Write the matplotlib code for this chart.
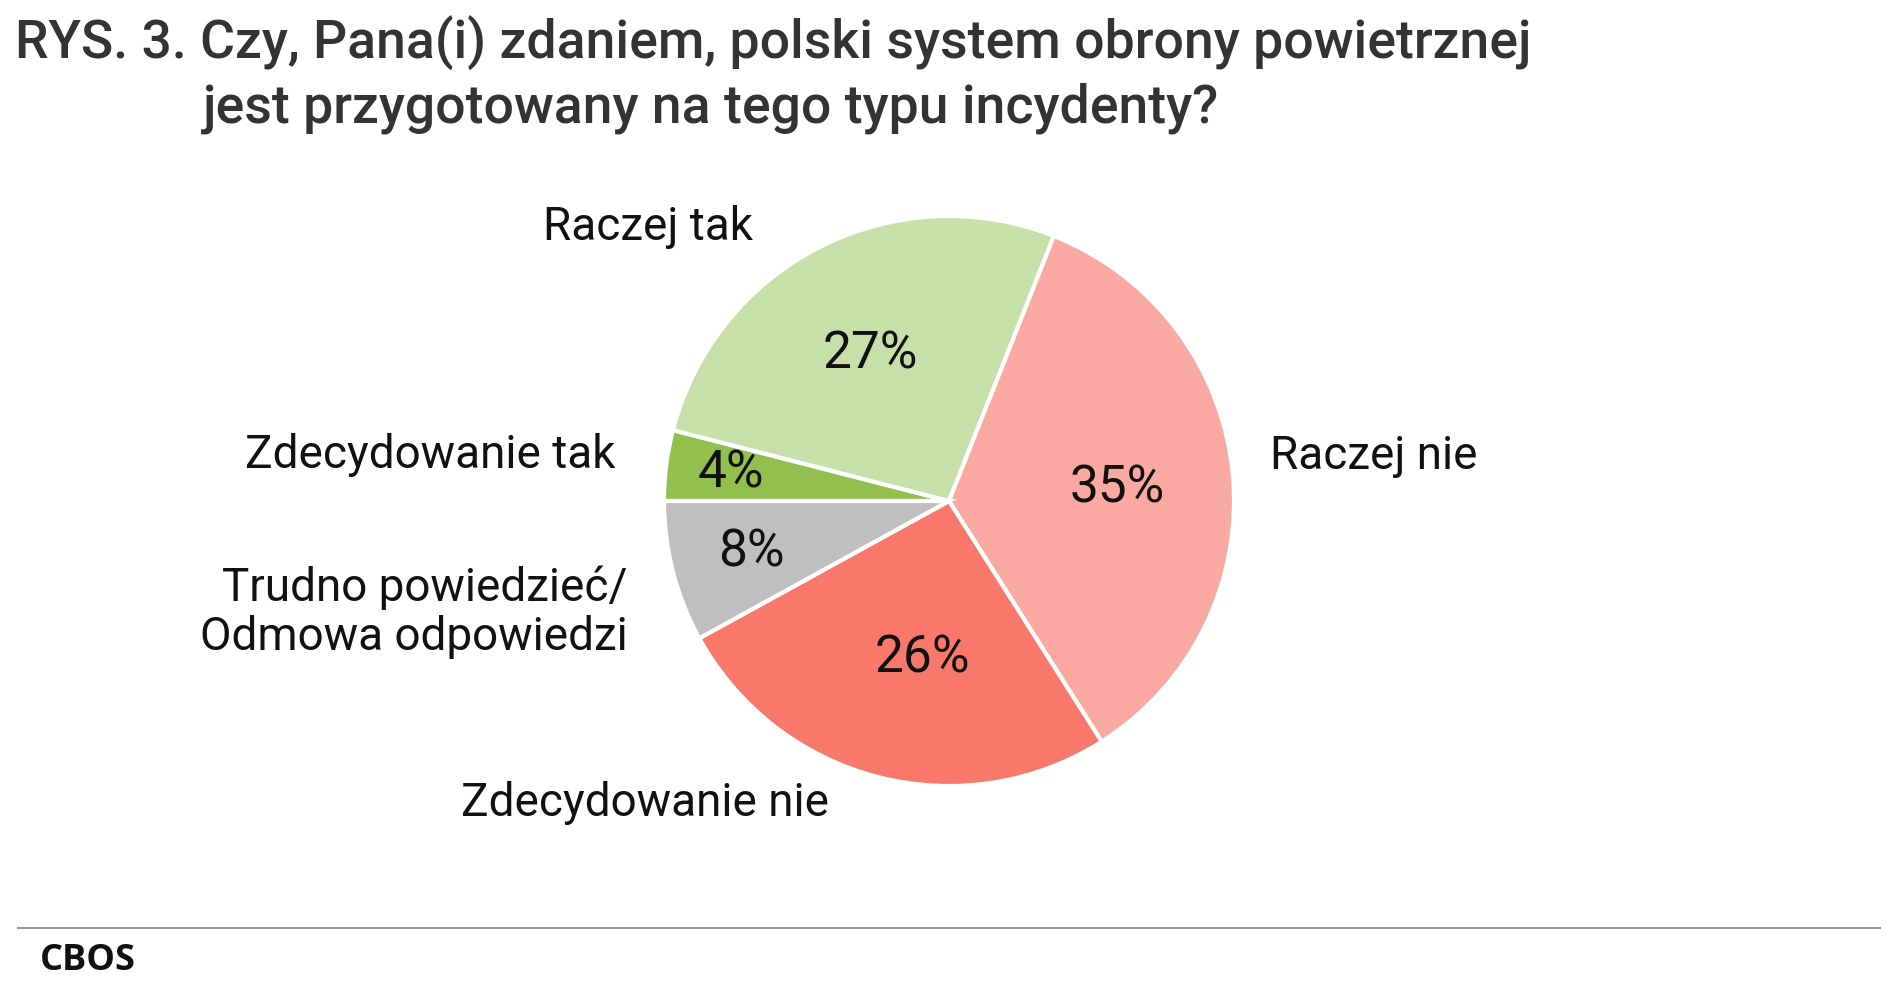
import matplotlib.pyplot as plt

plt.rcParams['font.family'] = ['Roboto', 'DejaVu Sans']

categories = ["Zdecydowanie tak", "Raczej tak", "Raczej nie", "Zdecydowanie nie",
              "Trudno powiedzieć/\nOdmowa odpowiedzi"]
values = [4, 27, 35, 26, 8]
colors = ["#92BF4E", "#C7DFA8", "#FAA8A2", "#F8786C", "#BFBFBF"]

# layout of outer labels and percentages (in pie radius units)
label_pos = [(-1.17, 0.16, "right"), (-1.055, 0.96, "center"), (1.128, 0.157, "left"),
             (-1.068, -1.06, "center"), (-1.128, -0.39, "right")]
pct_pos = [(-0.766, 0.098), (-0.277, 0.515), (0.59, 0.043), (-0.094, -0.553), (-0.694, -0.179)]

W, H = 1891, 991
fig = plt.figure(figsize=(W / 100, H / 100), dpi=100)
cx, cy, r = 949, 501, 285
ax = fig.add_axes([(cx - r) / W, (H - cy - r) / H, 2 * r / W, 2 * r / H])
wedges, _ = ax.pie(values, colors=colors, startangle=180, counterclock=False,
                   wedgeprops=dict(edgecolor="white", linewidth=3))
ax.set_xlim(-1, 1); ax.set_ylim(-1, 1); ax.set_aspect("equal"); ax.axis("off")

for cat, v, (lx, ly, ha), (px, py) in zip(categories, values, label_pos, pct_pos):
    ax.text(lx, ly, cat, ha=ha, va="center", fontsize=33, color="#111111",
            multialignment="right", linespacing=1.15)
    ax.text(px, py, f"{v}%", ha="center", va="center", fontsize=37, color="#111111")

fig.text(15 / W, 1 - 16 / H, "RYS. 3. Czy, Pana(i) zdaniem, polski system obrony powietrznej",
         ha="left", va="top", fontsize=38.5, fontweight="medium", color="#333333")
fig.text(203 / W, 1 - 82 / H, "jest przygotowany na tego typu incydenty?",
         ha="left", va="top", fontsize=38.5, fontweight="medium", color="#333333")

fig.add_artist(plt.Line2D([18 / W, 1880 / W], [1 - 928 / H] * 2, color="#999999", lw=1.5))
fig.text(40 / W, 1 - 961 / H, "CBOS", ha="left", va="center", fontsize=26,
         fontweight="bold", color="#111111", family=["Open Sans", "DejaVu Sans"])

fig.savefig("out.png", dpi=100)
